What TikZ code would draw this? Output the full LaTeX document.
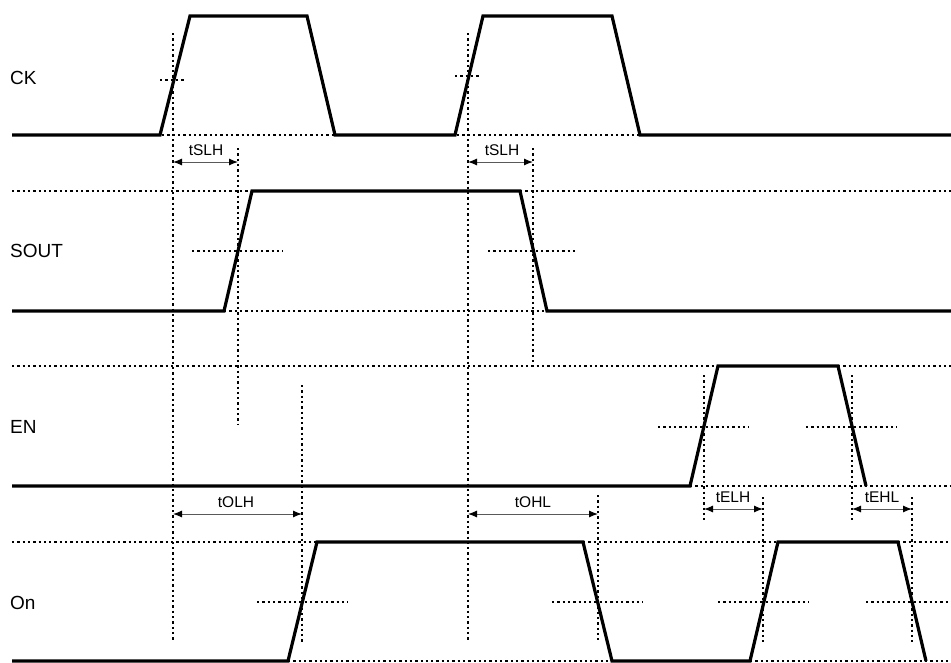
\documentclass[tikz,border=0pt]{standalone}
\usepackage{fontspec}
\setmainfont{Liberation Sans}
\usetikzlibrary{arrows.meta}
\begin{document}
\begin{tikzpicture}[x=1pt,y=-1pt,
  sig/.style={line width=3.2pt, line join=miter},
  dots/.style={line width=2.3pt, dash pattern=on 2.3pt off 3pt},
  dim/.style={line width=1pt, draw=black!65, {Latex[length=9pt,width=7pt,black]}-{Latex[length=9pt,width=7pt,black]}},
  lbl/.style={font=\fontsize{19}{19}\selectfont, anchor=west, inner sep=0pt},
  tlbl/.style={font=\fontsize{15.5}{15.5}\selectfont, inner sep=0pt}]
\useasboundingbox (0,0) rectangle (951,662);

% ---------- labels ----------
\node[lbl] (lck) at (10,78) {CK};
\node[lbl] (lsout) at (10,251) {SOUT};
\node[lbl] (len) at (10,427) {EN};
\node[lbl] (lon) at (10,603) {On};

% ---------- dotted guide lines ----------
% CK
\draw[dots] (173,33) -- (173,640);
\draw[dots] (160,80) -- (185,80);
\draw[dots] (162,135) -- (335,135);
\draw[dots] (468,33) -- (468,640);
\draw[dots] (455,76) -- (480,76);
\draw[dots] (457,135) -- (640,135);
% tSLH verticals
\draw[dots] (238,148) -- (238,425);
\draw[dots] (533,148) -- (533,364);
% SOUT
\draw[dots] (12,191) -- (252,191);
\draw[dots] (520,191) -- (951,191);
\draw[dots] (224,311) -- (547,311);
\draw[dots] (192,251) -- (283,251);
\draw[dots] (488,251) -- (578,251);
% EN
\draw[dots] (12,366) -- (718,366);
\draw[dots] (838,366) -- (951,366);
\draw[dots] (690,486) -- (951,486);
\draw[dots] (658,427) -- (749,427);
\draw[dots] (806,427) -- (897,427);
\draw[dots] (704,375) -- (704,522);
\draw[dots] (852,375) -- (852,522);
\draw[dots] (763,497) -- (763,642);
\draw[dots] (912,497) -- (912,642);
% On
\draw[dots] (12,542) -- (317,542);
\draw[dots] (583,542) -- (778,542);
\draw[dots] (898,542) -- (951,542);
\draw[dots] (288,661) -- (612,661);
\draw[dots] (750,661) -- (951,661);
\draw[dots] (257,602) -- (348,602);
\draw[dots] (552,602) -- (643,602);
\draw[dots] (718,602) -- (809,602);
\draw[dots] (866,602) -- (951,602);
\draw[dots] (302,385) -- (302,642);
\draw[dots] (598,495) -- (598,642);

% ---------- signals ----------
\draw[sig] (12,135) -- (160,135) -- (190,16) -- (307,16) -- (335,135) -- (455,135)
  -- (483,16) -- (612,16) -- (640,135) -- (951,135);
\draw[sig] (12,311) -- (224,311) -- (252,191) -- (520,191) -- (547,311) -- (951,311);
\draw[sig] (12,486) -- (690,486) -- (718,366) -- (838,366) -- (866,486);
\draw[sig] (12,661) -- (288,661) -- (317,542) -- (583,542) -- (612,661) -- (750,661)
  -- (778,542) -- (898,542) -- (926,661);

% ---------- timing dimensions ----------
\coordinate (s1a) at (173,162); \coordinate (s1b) at (238,162);
\draw[dim] (s1a) -- (s1b);
\node[tlbl] (ts1) at (206,150) {tSLH};
\coordinate (s2a) at (468,162); \coordinate (s2b) at (533,162);
\draw[dim] (s2a) -- (s2b);
\node[tlbl] (ts2) at (502,150) {tSLH};
\coordinate (o1a) at (173,514); \coordinate (o1b) at (302,514);
\draw[dim] (o1a) -- (o1b);
\node[tlbl] (to1) at (236,502) {tOLH};
\coordinate (o2a) at (468,514); \coordinate (o2b) at (598,514);
\draw[dim] (o2a) -- (o2b);
\node[tlbl] (to2) at (533,502) {tOHL};
\coordinate (e1a) at (704,509); \coordinate (e1b) at (763,509);
\draw[dim] (e1a) -- (e1b);
\node[tlbl] (te1) at (733,497) {tELH};
\coordinate (e2a) at (852,509); \coordinate (e2b) at (912,509);
\draw[dim] (e2a) -- (e2b);
\node[tlbl] (te2) at (882,497) {tEHL};
\end{tikzpicture}
\end{document}
